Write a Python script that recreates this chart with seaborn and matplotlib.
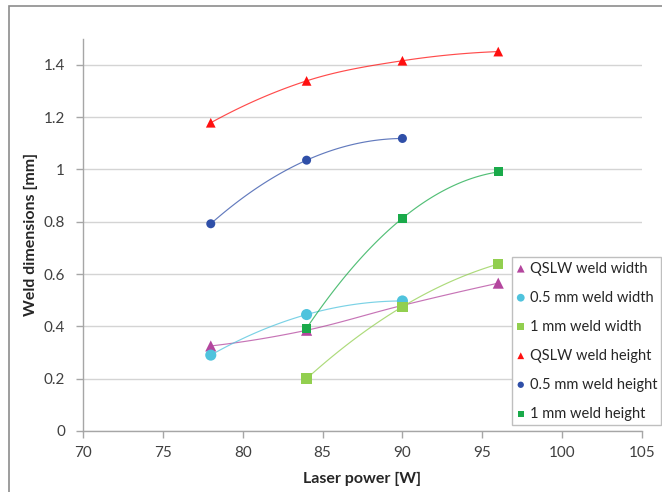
import numpy as np
import pandas as pd
import seaborn as sns
import matplotlib
matplotlib.use("Agg")
import matplotlib.pyplot as plt
from matplotlib.patches import Rectangle

# ---- data ----
power_a = [78, 84, 90, 96]
power_b = [78, 84, 90]
power_c = [84, 90, 96]

qslw_width = [0.325, 0.385, 0.480, 0.565]
half_width = [0.290, 0.445, 0.497]
one_width = [0.200, 0.475, 0.638]
qslw_height = [1.178, 1.338, 1.415, 1.450]
half_height = [0.792, 1.035, 1.118]
one_height = [0.393, 0.813, 0.990]

labels = ["QSLW weld width", "0.5 mm weld width", "1 mm weld width",
          "QSLW weld height", "0.5 mm weld height", "1 mm weld height"]
x_ticks = [70, 75, 80, 85, 90, 95, 100, 105]
y_ticks = [0, 0.2, 0.4, 0.6, 0.8, 1.0, 1.2, 1.4]
y_tick_labels = ["0", "0.2", "0.4", "0.6", "0.8", "1", "1.2", "1.4"]

series = [
    (labels[0], power_a, qslw_width, "#B4469E", "^", 8),
    (labels[1], power_b, half_width, "#4FC3DD", "o", 8),
    (labels[2], power_c, one_width, "#92CF4F", "s", 7.5),
    (labels[3], power_a, qslw_height, "#FF1010", "^", 7),
    (labels[4], power_b, half_height, "#2F4FA8", "o", 6.5),
    (labels[5], power_c, one_height, "#1AAA4A", "s", 6.5),
]


def smooth(xs, ys, n=40):
    """Cubic Hermite smoothing with parabolic end slopes (equal spacing)."""
    x = np.asarray(xs, float)
    y = np.asarray(ys, float)
    h = x[1] - x[0]
    m = np.zeros_like(y)
    m[1:-1] = (y[2:] - y[:-2]) / (2 * h)
    m[0] = (-3 * y[0] + 4 * y[1] - y[2]) / (2 * h)
    m[-1] = (3 * y[-1] - 4 * y[-2] + y[-3]) / (2 * h)
    t = np.linspace(0, 1, n)
    h00 = 2 * t**3 - 3 * t**2 + 1
    h10 = t**3 - 2 * t**2 + t
    h01 = -2 * t**3 + 3 * t**2
    h11 = t**3 - t**2
    ox, oy = [], []
    for i in range(len(x) - 1):
        dx = x[i + 1] - x[i]
        ox.extend(x[i] + t * dx)
        oy.extend(h00 * y[i] + h10 * dx * m[i] + h01 * y[i + 1] + h11 * dx * m[i + 1])
    return np.array(ox), np.array(oy)


sns.set_theme(style="white")
plt.rcParams['font.family'] = ['Lato', 'DejaVu Sans']

fig = plt.figure(figsize=(6.62, 4.92), dpi=100)
ax = fig.add_axes([83 / 662, 1 - 431 / 492, 559 / 662, (431 - 38.5) / 492])

fig.patches.append(Rectangle((9 / 662, -0.1), 1.2, 1 - 6 / 492 + 0.1,
                             transform=fig.transFigure, fill=False,
                             edgecolor="#8C8C8C", linewidth=1.2))

for name, xs, ys, col, mk, ms in series:
    sx, sy = smooth(xs, ys)
    sns.lineplot(x=sx, y=sy, ax=ax, color=col, linewidth=0.85, alpha=0.75,
                 sort=False, estimator=None, legend=False)
for name, xs, ys, col, mk, ms in series:
    df = pd.DataFrame({"x": xs, "y": ys})
    sns.scatterplot(data=df, x="x", y="y", ax=ax, color=col, marker=mk,
                    s=ms**2, edgecolor="none", linewidth=0, zorder=5,
                    label=name, legend=True)

ax.set_xlim(70, 105)
ax.set_ylim(0, 1.5)
ax.set_xticks(x_ticks)
ax.set_yticks(y_ticks)
ax.set_yticklabels(y_tick_labels)
ax.yaxis.grid(True, color="#D4D4D4", linewidth=1)
ax.xaxis.grid(False)
for s in ["top", "right"]:
    ax.spines[s].set_visible(False)
for s in ["left", "bottom"]:
    ax.spines[s].set_color("#A6A6A6")
    ax.spines[s].set_linewidth(1)
ax.tick_params(axis="both", which="both", length=5, width=1, color="#A6A6A6",
               labelsize=11, labelcolor="#404040", direction="out",
               left=True, bottom=True)
ax.tick_params(axis="y", pad=8)
ax.tick_params(axis="x", pad=6)
ax.set_xlabel("Laser power [W]", fontsize=11.5, fontweight="bold", color="#262626", labelpad=8)
ax.set_ylabel("Weld dimensions [mm]", fontsize=11.5, fontweight="bold", color="#262626", labelpad=4)

handles, lbls = ax.get_legend_handles_labels()
leg = ax.legend(handles, lbls, loc="lower left",
                bbox_to_anchor=((512 - 83) / 559, 6 / 392.5),
                fontsize=10.5, frameon=True, fancybox=False, framealpha=1,
                edgecolor="#BFBFBF", borderpad=0.3, labelspacing=1.03,
                handletextpad=0.3, handlelength=0.6, markerscale=0.7,
                borderaxespad=0)
leg.get_frame().set_linewidth(1)
for t in leg.get_texts():
    t.set_color("#262626")

fig.savefig("out.png", dpi=100, facecolor="white")
